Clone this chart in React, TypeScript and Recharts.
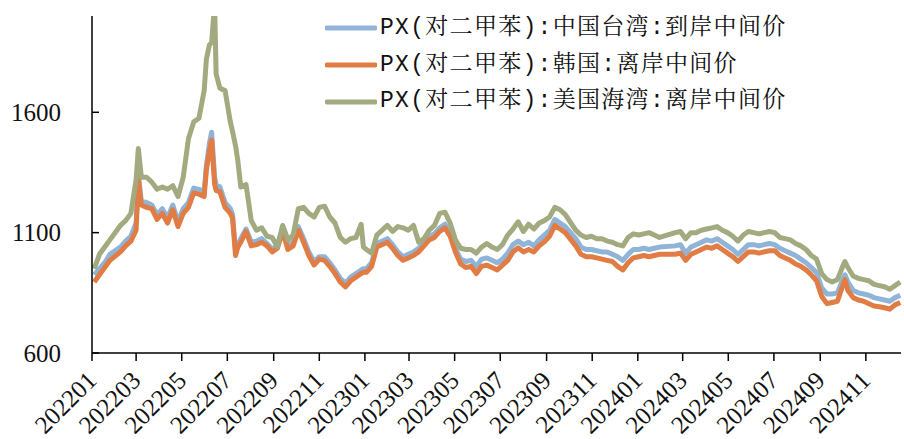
import React from 'react';
import { LineChart, Line, XAxis, YAxis, Legend } from 'recharts';

// weekly-ish readings, 2022-01 .. 2024-12
const dates = [
  // 2022
  '2022-01-04', '2022-01-11', '2022-01-18', '2022-01-25', '2022-02-08', '2022-02-15', '2022-02-22', '2022-03-01',
  '2022-03-04', '2022-03-08', '2022-03-15', '2022-03-22', '2022-03-29', '2022-04-05', '2022-04-12', '2022-04-19',
  '2022-04-26', '2022-05-03', '2022-05-10', '2022-05-17', '2022-05-24', '2022-05-31', '2022-06-03', '2022-06-07',
  '2022-06-10', '2022-06-14', '2022-06-16', '2022-06-21', '2022-06-28', '2022-07-05', '2022-07-08', '2022-07-12',
  '2022-07-15', '2022-07-19', '2022-07-26', '2022-08-02', '2022-08-09', '2022-08-16', '2022-08-23', '2022-08-30',
  '2022-09-06', '2022-09-13', '2022-09-20', '2022-09-27', '2022-10-04', '2022-10-11', '2022-10-18', '2022-10-25',
  '2022-11-01', '2022-11-08', '2022-11-15', '2022-11-22', '2022-11-29', '2022-12-06', '2022-12-13', '2022-12-20',
  '2022-12-27', '2022-12-30',
  // 2023
  '2023-01-03', '2023-01-10', '2023-01-17', '2023-01-31', '2023-02-07', '2023-02-14', '2023-02-21', '2023-02-28',
  '2023-03-07', '2023-03-14', '2023-03-21', '2023-03-28', '2023-04-04', '2023-04-11', '2023-04-18', '2023-04-25',
  '2023-05-02', '2023-05-09', '2023-05-16', '2023-05-23', '2023-05-30', '2023-06-06', '2023-06-13', '2023-06-20',
  '2023-06-27', '2023-07-04', '2023-07-11', '2023-07-18', '2023-07-25', '2023-08-01', '2023-08-08', '2023-08-15',
  '2023-08-22', '2023-08-29', '2023-09-05', '2023-09-12', '2023-09-19', '2023-09-26', '2023-10-10', '2023-10-17',
  '2023-10-24', '2023-10-31', '2023-11-07', '2023-11-14', '2023-11-21', '2023-11-28', '2023-12-05', '2023-12-12',
  '2023-12-19', '2023-12-26',
  // 2024
  '2024-01-02', '2024-01-09', '2024-01-16', '2024-01-23', '2024-01-30', '2024-02-20', '2024-02-27', '2024-03-05',
  '2024-03-12', '2024-03-19', '2024-03-26', '2024-04-02', '2024-04-09', '2024-04-16', '2024-04-23', '2024-04-30',
  '2024-05-07', '2024-05-14', '2024-05-21', '2024-05-28', '2024-06-04', '2024-06-11', '2024-06-18', '2024-06-25',
  '2024-07-02', '2024-07-09', '2024-07-16', '2024-07-23', '2024-07-30', '2024-08-06', '2024-08-13', '2024-08-20',
  '2024-08-27', '2024-09-03', '2024-09-10', '2024-09-17', '2024-09-24', '2024-10-01', '2024-10-04', '2024-10-08',
  '2024-10-15', '2024-10-22', '2024-10-29', '2024-11-05', '2024-11-12', '2024-11-19', '2024-11-26', '2024-12-03',
  '2024-12-10', '2024-12-17',
];

const taiwanCfr = [
  925, 950, 975, 1010, 1040, 1065, 1085, 1140,
  1340, 1230, 1225, 1215, 1175, 1200, 1160, 1215,
  1145, 1200, 1225, 1285, 1280, 1270, 1380, 1470,
  1517, 1330, 1300, 1290, 1225, 1200, 1175, 1020,
  1050, 1075, 1115, 1060, 1065, 1075, 1055, 1030,
  1050, 1120, 1045, 1060, 1125, 1075, 1020, 980,
  1000, 1000, 975, 945, 910, 890, 915, 930,
  945, 950,
  950, 975, 1055, 1075, 1050, 1020, 1000, 1010,
  1020, 1035, 1060, 1085, 1095, 1120, 1135, 1100,
  1035, 990, 980, 985, 960, 990, 995, 985,
  975, 990, 1015, 1050, 1065, 1050, 1060, 1045,
  1070, 1090, 1110, 1155, 1140, 1125, 1075, 1040,
  1030, 1030, 1025, 1020, 1020, 1010, 1000, 985,
  1010, 1030,
  1030, 1035, 1030, 1035, 1040, 1045, 1050, 1015,
  1040, 1050, 1060, 1070, 1065, 1075, 1060, 1045,
  1030, 1010, 1030, 1050, 1050, 1045, 1050, 1055,
  1050, 1035, 1025, 1015, 1005, 990, 975, 955,
  935, 870, 845, 845, 850, 905, 925, 895,
  860, 850, 845, 840, 830, 825, 820, 815,
  830, 840,
];

const koreaFob = [
  895, 925, 955, 985, 1020, 1045, 1065, 1110,
  1320, 1215, 1205, 1200, 1155, 1180, 1140, 1195,
  1125, 1180, 1205, 1265, 1260, 1250, 1360, 1440,
  1485, 1300, 1275, 1270, 1205, 1180, 1160, 1005,
  1040, 1060, 1105, 1045, 1050, 1060, 1045, 1020,
  1035, 1105, 1030, 1045, 1110, 1060, 1005, 965,
  990, 985, 960, 930, 895, 875, 900, 915,
  930, 935,
  935, 960, 1040, 1060, 1035, 1005, 985, 995,
  1005, 1020, 1045, 1070, 1080, 1105, 1120, 1085,
  1020, 970, 955, 960, 930, 960, 965, 955,
  945, 965, 985, 1020, 1037, 1020, 1030, 1020,
  1045, 1062, 1085, 1130, 1115, 1100, 1045, 1010,
  1000, 1000, 995, 990, 985, 980, 960, 945,
  975, 995,
  1000, 1005, 1000, 1005, 1010, 1010, 1015, 985,
  1010, 1020, 1030, 1040, 1035, 1045, 1030, 1015,
  1000, 980, 1000, 1020, 1020, 1015, 1020, 1025,
  1025, 1005, 995, 985, 970, 960, 945, 925,
  900, 835, 805, 810, 815, 880, 905, 860,
  830, 820, 815, 805, 795, 792, 788, 782,
  800, 810,
];

const usGulfFob = [
  950, 1010, 1040, 1070, 1130, 1150, 1180, 1320,
  1450, 1330, 1330, 1310, 1280, 1290, 1280, 1295,
  1250, 1330, 1490, 1560, 1575, 1690, 1820, 1880,
  1890, 2050, 1760, 1700, 1690, 1560, 1520, 1460,
  1400, 1290, 1300, 1150, 1110, 1120, 1085, 1080,
  1040, 1130, 1070, 1090, 1200, 1205, 1180, 1165,
  1205, 1210, 1165, 1140, 1080, 1060, 1075, 1080,
  1135, 1040,
  1030, 1015, 1090, 1130, 1105, 1125, 1120, 1110,
  1130, 1060, 1075, 1110, 1130, 1180, 1185, 1140,
  1070, 1035, 1030, 1030, 1015, 1040, 1055, 1040,
  1030, 1050, 1090, 1115, 1145, 1105, 1135, 1115,
  1140, 1150, 1165, 1205, 1195, 1175, 1110, 1090,
  1080, 1085, 1075, 1075, 1065, 1060, 1050, 1045,
  1080, 1095,
  1090, 1095, 1100, 1090, 1080, 1100, 1105, 1075,
  1100, 1100, 1110, 1115, 1120, 1125, 1110, 1100,
  1085, 1065, 1090, 1105, 1100, 1095, 1100, 1105,
  1100, 1080, 1075, 1070, 1055, 1045, 1030, 1005,
  990, 930, 905, 895, 905, 960, 980, 955,
  920, 910, 905, 900, 885, 880, 875, 865,
  880, 895,
];

const monthTicks = [
  '202201', '202203', '202205', '202207', '202209', '202211',
  '202301', '202303', '202305', '202307', '202309', '202311',
  '202401', '202403', '202405', '202407', '202409', '202411',
];
const yTicks = [600, 1100, 1600];

const series = [
  { key: 'tw', name: 'PX(对二甲苯):中国台湾:到岸中间价', color: '#8FB4D7' },
  { key: 'kr', name: 'PX(对二甲苯):韩国:离岸中间价', color: '#E07C44' },
  { key: 'us', name: 'PX(对二甲苯):美国海湾:离岸中间价', color: '#A2AA7F' },
];

const DAY = 86400000;
const BASE = Date.UTC(2022, 0, 1);
const toDay = (s: string) => (Date.parse(s + 'T00:00:00Z') - BASE) / DAY;
const monthDay = (m: string) => (Date.UTC(+m.slice(0, 4), +m.slice(4) - 1, 1) - BASE) / DAY;

const data = dates.map((d, i) => ({ t: toDay(d), tw: taiwanCfr[i], kr: koreaFob[i], us: usGulfFob[i] }));
const xTicks = monthTicks.map(monthDay);
const labelOf = new Map(xTicks.map((d, i) => [d, monthTicks[i]]));

const NUM_FONT = '"Liberation Serif", Tinos, serif';
const LEGEND_FONT = '"Liberation Mono", "Noto Serif CJK SC", monospace';

const XTick = (props: any) => {
  const { x, y, payload } = props;
  const px = x + 6;
  const py = y + 19;
  return (
    <text x={px} y={py} textAnchor="end" transform={`rotate(-45, ${px}, ${py})`}
      style={{ fontFamily: NUM_FONT, fontSize: 25 }} fill="#111">
      {labelOf.get(payload.value) ?? ''}
    </text>
  );
};

const YTick = (props: any) => {
  const { x, y, payload } = props;
  return (
    <g>
      <line x1={x} y1={y} x2={x + 7} y2={y} stroke="#000" strokeWidth={1.5} />
      <text x={x - 31} y={y} dy="0.35em" textAnchor="end" style={{ fontFamily: NUM_FONT, fontSize: 25 }} fill="#111">
        {payload.value}
      </text>
    </g>
  );
};

const renderLegend = () => (
  <div>
    {series.map((s) => (
      <div key={s.key} style={{ display: 'flex', alignItems: 'center', height: 36.7 }}>
        <svg width={52} height={10}>
          <line x1={2} y1={5} x2={50} y2={5} stroke={s.color} strokeWidth={5} strokeLinecap="round" />
        </svg>
        <span style={{
          marginLeft: 3, fontFamily: LEGEND_FONT, fontSize: 23,
          letterSpacing: 1.3, color: '#111', whiteSpace: 'nowrap', lineHeight: 1,
        }}>
          {s.name}
        </span>
      </div>
    ))}
  </div>
);

export default function App() {
  return (
    <div style={{ position: 'absolute', left: 0, top: 0, background: '#fff' }}>
      <LineChart width={904} height={439} data={data} margin={{ top: 16, right: 3, left: 0, bottom: 0 }}>
        <XAxis
          type="number"
          dataKey="t"
          domain={[0, 1082]}
          ticks={xTicks}
          interval={0}
          height={86}
          tickSize={8}
          axisLine={{ stroke: '#000', strokeWidth: 1.5 }}
          tickLine={{ stroke: '#000', strokeWidth: 1.5 }}
          tick={(p: any) => <XTick {...p} />}
        />
        <YAxis
          type="number"
          domain={[600, 2000]}
          ticks={yTicks}
          allowDataOverflow
          width={92}
          tickSize={0}
          tickMargin={0}
          tickLine={false}
          axisLine={{ stroke: '#000', strokeWidth: 1.5 }}
          tick={(p: any) => <YTick {...p} />}
        />
        <Legend
          layout="vertical"
          align="center"
          verticalAlign="middle"
          content={renderLegend}
          wrapperStyle={{ position: 'absolute', left: 325, top: 10, width: 570, height: 'auto' }}
        />
        {series.map((s) => (
          <Line
            key={s.key}
            type="linear"
            dataKey={s.key}
            name={s.name}
            stroke={s.color}
            strokeWidth={5}
            strokeLinejoin="round"
            dot={false}
            activeDot={false}
            isAnimationActive={false}
          />
        ))}
      </LineChart>
    </div>
  );
}
